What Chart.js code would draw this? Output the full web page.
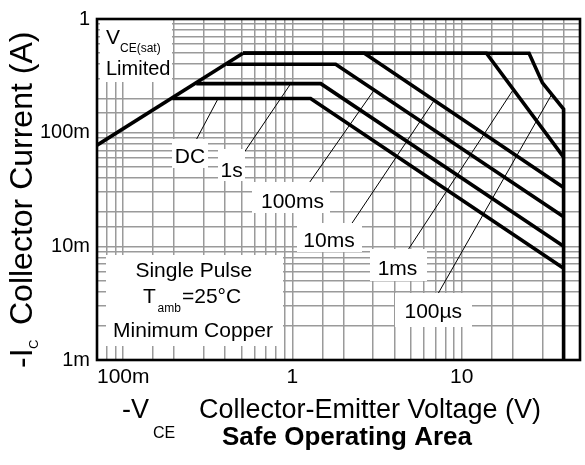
<!DOCTYPE html>
<html><head><meta charset="utf-8">
<script src="https://cdn.jsdelivr.net/npm/chart.js@4.4.0/dist/chart.umd.min.js"></script>
<style>html,body{margin:0;padding:0;background:#fff}#wrap{width:585px;height:465px;position:relative}</style>
</head><body><div id="wrap"><canvas id="c" width="585" height="465"></canvas></div>
<script>
// ---------- axis ranges and tick labels ----------
const xMin = 0.07, xMax = 50;
const yMin = 0.001, yMax = 1;
const xTickValues = [0.1, 1, 10];
const xTickTexts  = ["100m", "1", "10"];
const yTickValues = [0.001, 0.01, 0.1, 1];
const yTickTexts  = ["1m", "10m", "100m", "1"];

// ---------- VCE(sat) limit line ----------
const vceSatX = [0.07, 0.51];
const vceSatY = [0.0775, 0.5];

// ---------- SOA curves (V, A) ----------
const dcX    = [0.195, 1.28, 40];          const dcY    = [0.2, 0.2, 0.0064];
const s1X    = [0.27, 1.47, 40];           const s1Y    = [0.27, 0.27, 0.0100];
const ms100X = [0.41, 1.8, 40];            const ms100Y = [0.4, 0.4, 0.0182];
const ms10X  = [0.51, 2.66, 40];           const ms10Y  = [0.5, 0.5, 0.033];
const ms1X   = [0.51, 14, 40];             const ms1Y   = [0.5, 0.5, 0.061];
const us100X = [0.51, 25, 30, 40, 40];     const us100Y = [0.5, 0.5, 0.274, 0.161, 0.001];

// ---------- label leader lines (V, A) ----------
const leadDcX    = [0.266, 0.364];  const leadDcY    = [0.083, 0.2];
const leadS1X    = [0.522, 0.977];  const leadS1Y    = [0.068, 0.27];
const leadMs100X = [1.235, 3.03];   const leadMs100Y = [0.0349, 0.236];
const leadMs10X  = [2.21, 6.89];    const leadMs10Y  = [0.0154, 0.193];
const leadMs1X   = [4.81, 20.2];    const leadMs1Y   = [0.00927, 0.24];
const leadUs100X = [7.21, 33.9];    const leadUs100Y = [0.00378, 0.215];

const curveNames = ["DC", "1s", "100ms", "10ms", "1ms", "100\u00b5s"];

function pts(xs, ys) { return xs.map((x, i) => ({x: x, y: ys[i]})); }
function curve(xs, ys) {
  return {data: pts(xs, ys), showLine: true, borderColor: '#000', borderWidth: 3.6,
          pointRadius: 0, tension: 0, borderJoinStyle: 'miter', borderCapStyle: 'butt'};
}
function leader(xs, ys) {
  return {data: pts(xs, ys), showLine: true, borderColor: '#000', borderWidth: 1,
          pointRadius: 0, tension: 0};
}

const FONT = '"Liberation Sans", Arial, Helvetica, sans-serif';

// layout of annotation boxes / texts (pixels)
const curveLabelLayout = [
  {cx: 190,   base: 163,   box: [172, 139, 208, 168]},
  {cx: 231.7, base: 177,   box: [218, 149, 245, 181]},
  {cx: 292.5, base: 208,   box: [252, 182, 330, 213]},
  {cx: 329,   base: 246.7, box: [297, 223, 362, 252]},
  {cx: 397.5, base: 275,   box: [370, 249, 427, 281]},
  {cx: 433.3, base: 318.3, box: [395, 293, 472, 327]}
];

function txt(ctx, s, x, y, size, opts) {
  opts = opts || {};
  ctx.save();
  ctx.font = (opts.bold ? 'bold ' : '') + size + 'px ' + FONT;
  ctx.fillStyle = '#000';
  ctx.textBaseline = 'alphabetic';
  ctx.textAlign = opts.align || 'left';
  ctx.translate(x, y);
  if (opts.rot) ctx.rotate(opts.rot);
  ctx.fillText(s, 0, 0);
  ctx.restore();
}

const annot = {
  id: 'annot',
  afterDatasetsDraw(chart) {
    const ctx = chart.ctx;
    ctx.save();
    ctx.fillStyle = '#fff';
    // text boxes
    ctx.fillRect(100, 15, 72, 67);
    ctx.fillRect(106, 255, 177, 91);
    curveLabelLayout.forEach(l => {
      ctx.fillRect(l.box[0], l.box[1], l.box[2] - l.box[0], l.box[3] - l.box[1]);
    });
    ctx.restore();
    // VCE(sat) Limited
    txt(ctx, 'V', 106, 43.5, 21);
    txt(ctx, 'CE(sat)', 120, 51.5, 12);
    txt(ctx, 'Limited', 106, 75, 20);
    // Single pulse block
    txt(ctx, 'Single Pulse', 193.8, 276.7, 21, {align: 'center'});
    txt(ctx, 'T', 143, 303.3, 21);
    txt(ctx, 'amb', 157.5, 311.5, 12);
    txt(ctx, '=25\u00b0C', 182, 303.3, 21);
    txt(ctx, 'Minimum Copper', 193, 336.7, 21, {align: 'center'});
    // curve labels
    curveLabelLayout.forEach((l, i) => txt(ctx, curveNames[i], l.cx, l.base, 21, {align: 'center'}));
  },
  afterDraw(chart) {
    const ctx = chart.ctx, a = chart.chartArea;
    ctx.save();
    ctx.strokeStyle = '#000';
    ctx.lineWidth = 2.6;
    ctx.strokeRect(a.left, a.top, a.right - a.left, a.bottom - a.top);
    ctx.restore();
    // axis titles
    txt(ctx, '-I', 31.5, 368, 32, {rot: -Math.PI / 2});
    txt(ctx, 'C', 37.5, 349, 13, {rot: -Math.PI / 2});
    txt(ctx, 'Collector Current (A)', 31.5, 325, 32, {rot: -Math.PI / 2});
    txt(ctx, '-V', 122, 418.3, 27);
    txt(ctx, 'CE', 153, 437.5, 16);
    txt(ctx, 'Collector-Emitter Voltage (V)', 199, 418.3, 27);
    txt(ctx, 'Safe Operating Area', 347, 445, 26, {bold: true, align: 'center'});
  }
};

function tickLabel(values, texts) {
  return function (v) {
    for (let i = 0; i < values.length; i++) {
      if (Math.abs(Math.log10(v) - Math.log10(values[i])) < 1e-6) return texts[i];
    }
    return '';
  };
}

const gridStyle = {color: '#9a9a9a', lineWidth: 1.5, drawTicks: false};

new Chart(document.getElementById('c'), {
  type: 'scatter',
  data: {
    datasets: [
      curve(vceSatX, vceSatY),
      curve(dcX, dcY), curve(s1X, s1Y), curve(ms100X, ms100Y),
      curve(ms10X, ms10Y), curve(ms1X, ms1Y), curve(us100X, us100Y),
      leader(leadDcX, leadDcY), leader(leadS1X, leadS1Y), leader(leadMs100X, leadMs100Y),
      leader(leadMs10X, leadMs10Y), leader(leadMs1X, leadMs1Y), leader(leadUs100X, leadUs100Y)
    ]
  },
  options: {
    responsive: false,
    animation: false,
    devicePixelRatio: 1,
    layout: {padding: {top: 13, right: 0, left: 0, bottom: 0}},
    plugins: {legend: {display: false}, tooltip: {enabled: false}},
    scales: {
      x: {
        type: 'logarithmic', min: xMin, max: xMax,
        grid: gridStyle, border: {display: false},
        ticks: {autoSkip: false, maxRotation: 0, padding: 5, color: '#000',
                font: {family: FONT, size: 21}, callback: tickLabel(xTickValues, xTickTexts)},
        afterFit(s) { s.height = 105; }
      },
      y: {
        type: 'logarithmic', min: yMin, max: yMax,
        grid: gridStyle, border: {display: false},
        ticks: {autoSkip: false, padding: 7, color: '#000',
                font: {family: FONT, size: 20}, callback: tickLabel(yTickValues, yTickTexts)},
        afterFit(s) { s.width = 97; }
      }
    }
  },
  plugins: [annot]
});
</script>
</body></html>
